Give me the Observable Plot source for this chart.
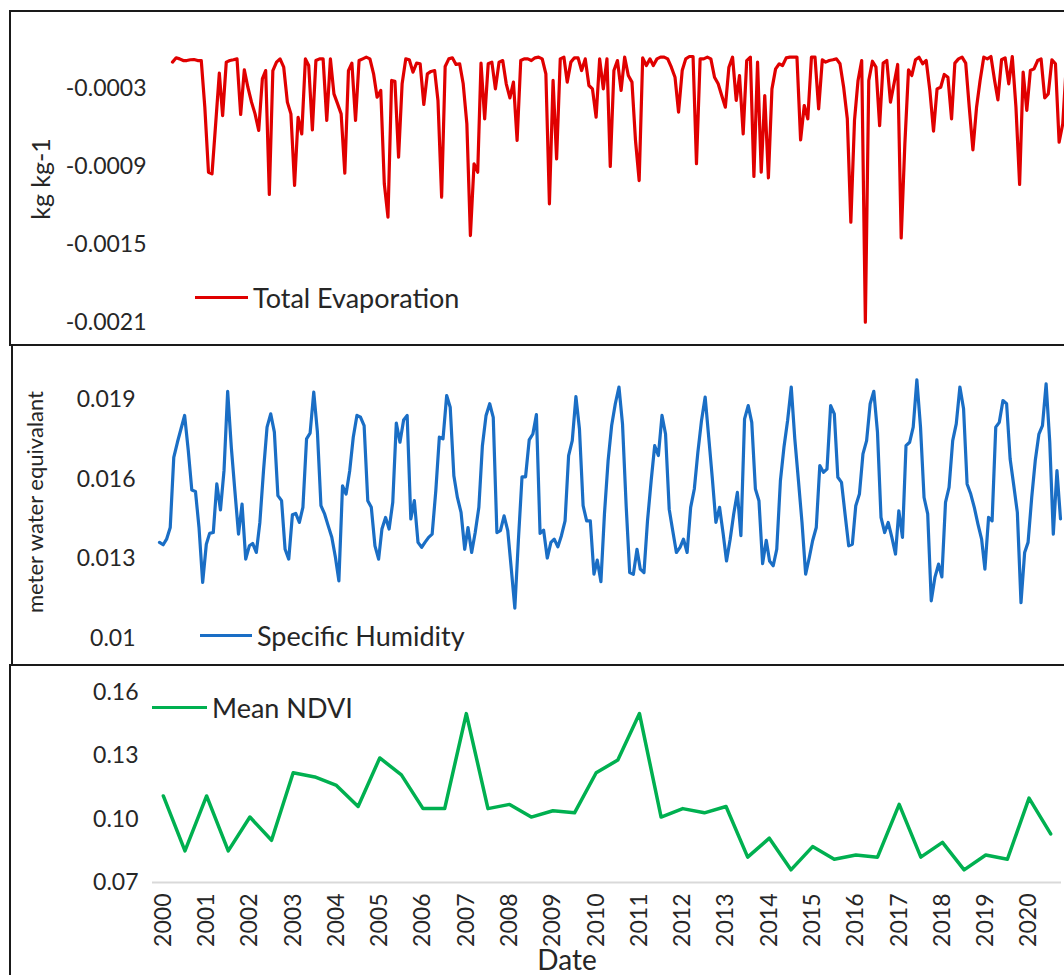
<!DOCTYPE html>
<html><head><meta charset="utf-8">
<script src="https://cdn.jsdelivr.net/npm/d3@7"></script>
<script src="https://cdn.jsdelivr.net/npm/@observablehq/plot@0.6"></script>
<style>
html,body{margin:0;padding:0;background:#fff;}
body{width:1064px;height:975px;overflow:hidden;position:relative;font-family:Lato,sans-serif;color:#262626;}
.panel{position:absolute;border:2px solid #1a1a1a;box-sizing:border-box;}
svg.plot{position:absolute;left:0;max-width:none !important;}
.lbl{position:absolute;white-space:nowrap;line-height:1;transform:translate(-50%,-50%) rotate(-90deg);}
.leg{position:absolute;height:30px;display:flex;align-items:center;font-size:27px;white-space:nowrap;}
.leg .sw{display:inline-block;height:3px;margin-right:5px;}
</style></head><body>
<script>
// ---------- data ----------
const startYear = 2000;
// Total Evaporation, monthly Jan 2000 - Dec 2020 (kg kg-1)
const evaporation = [
-0.000097,-0.000064,-0.000072,-0.000085,-0.000085,-0.000079,-0.000077,-0.000085,-0.000085,-0.000444,-0.000944,-0.000956,
-0.000572,-0.000182,-0.000508,-0.000097,-0.000085,-0.000079,-0.000072,-0.000500,-0.000156,-0.000290,-0.000405,-0.000495,
-0.000623,-0.000226,-0.000162,-0.001115,-0.000162,-0.000097,-0.000072,-0.000136,-0.000405,-0.000495,-0.001046,-0.000521,
-0.000649,-0.000072,-0.000123,-0.000618,-0.000085,-0.000072,-0.000072,-0.000546,-0.000072,-0.000341,-0.000418,-0.000495,
-0.000951,-0.000162,-0.000105,-0.000546,-0.000085,-0.000072,-0.000059,-0.000072,-0.000187,-0.000367,-0.000315,-0.001033,
-0.001290,-0.000238,-0.000244,-0.000828,-0.000264,-0.000072,-0.000079,-0.000174,-0.000105,-0.000110,-0.000423,-0.000187,
-0.000169,-0.000162,-0.000392,-0.001136,-0.000131,-0.000072,-0.000064,-0.000115,-0.000110,-0.000264,-0.000572,-0.001431,
-0.000879,-0.000944,-0.000105,-0.000533,-0.000110,-0.000097,-0.000303,-0.000097,-0.000085,-0.000264,-0.000372,-0.000251,
-0.000700,-0.000085,-0.000072,-0.000072,-0.000085,-0.000064,-0.000059,-0.000072,-0.000187,-0.001187,-0.000238,-0.000841,
-0.000072,-0.000059,-0.000251,-0.000097,-0.000064,-0.000064,-0.000162,-0.000072,-0.000277,-0.000303,-0.000521,-0.000072,
-0.000303,-0.000072,-0.000900,-0.000162,-0.000085,-0.000315,-0.000059,-0.000200,-0.000251,-0.000700,-0.001008,-0.000064,
-0.000123,-0.000072,-0.000123,-0.000072,-0.000059,-0.000059,-0.000072,-0.000136,-0.000213,-0.000482,-0.000162,-0.000072,
-0.000054,-0.000054,-0.000879,-0.000072,-0.000072,-0.000059,-0.000072,-0.000213,-0.000264,-0.000354,-0.000444,-0.000136,
-0.000059,-0.000392,-0.000200,-0.000649,-0.000085,-0.000059,-0.000977,-0.000097,-0.000944,-0.000354,-0.000987,-0.000303,
-0.000149,-0.000110,-0.000123,-0.000064,-0.000059,-0.000059,-0.000059,-0.000695,-0.000431,-0.000533,-0.000059,-0.000059,
-0.000456,-0.000079,-0.000097,-0.000085,-0.000079,-0.000072,-0.000110,-0.000290,-0.000533,-0.001328,-0.000546,-0.000238,
-0.000085,-0.002097,-0.000238,-0.000090,-0.000136,-0.000585,-0.000105,-0.000085,-0.000405,-0.000264,-0.000115,-0.001449,
-0.000726,-0.000156,-0.000200,-0.000079,-0.000059,-0.000110,-0.000085,-0.000315,-0.000628,-0.000303,-0.000290,-0.000192,
-0.000213,-0.000533,-0.000105,-0.000072,-0.000059,-0.000105,-0.000444,-0.000772,-0.000444,-0.000238,-0.000059,-0.000072,
-0.000054,-0.000238,-0.000387,-0.000079,-0.000064,-0.000264,-0.000054,-0.000444,-0.001038,-0.000174,-0.000469,-0.000162,
-0.000149,-0.000085,-0.000072,-0.000372,-0.000341,-0.000079,-0.000110,-0.000713,-0.000572,-0.000120,-0.000080,-0.000090
];
// Specific Humidity, monthly Jan 2000 - Dec 2020 (meter water equivalant)
const humidity = [
0.01362,0.01353,0.01374,0.01418,0.01682,0.01739,0.01789,0.01840,0.01708,0.01559,0.01554,0.01418,
0.01211,0.01355,0.01396,0.01399,0.01582,0.01484,0.01632,0.01931,0.01720,0.01557,0.01393,0.01506,
0.01299,0.01349,0.01358,0.01324,0.01437,0.01632,0.01796,0.01846,0.01777,0.01538,0.01519,0.01336,
0.01299,0.01466,0.01471,0.01437,0.01494,0.01752,0.01773,0.01928,0.01777,0.01500,0.01469,0.01425,
0.01381,0.01305,0.01217,0.01575,0.01544,0.01632,0.01758,0.01840,0.01833,0.01802,0.01519,0.01494,
0.01349,0.01299,0.01412,0.01456,0.01412,0.01513,0.01811,0.01739,0.01823,0.01840,0.01450,0.01519,
0.01362,0.01343,0.01362,0.01381,0.01393,0.01557,0.01758,0.01752,0.01915,0.01871,0.01613,0.01531,
0.01475,0.01336,0.01418,0.01324,0.01399,0.01494,0.01726,0.01840,0.01884,0.01833,0.01399,0.01406,
0.01462,0.01406,0.01267,0.01114,0.01368,0.01609,0.01609,0.01748,0.01770,0.01843,0.01396,0.01408,
0.01303,0.01362,0.01374,0.01345,0.01387,0.01443,0.01689,0.01745,0.01911,0.01789,0.01500,0.01443,
0.01443,0.01242,0.01295,0.01214,0.01469,0.01670,0.01802,0.01884,0.01947,0.01808,0.01500,0.01248,
0.01242,0.01336,0.01261,0.01248,0.01443,0.01594,0.01726,0.01689,0.01840,0.01770,0.01487,0.01406,
0.01324,0.01343,0.01374,0.01324,0.01494,0.01563,0.01701,0.01821,0.01909,0.01758,0.01601,0.01437,
0.01494,0.01393,0.01292,0.01374,0.01469,0.01550,0.01387,0.01827,0.01877,0.01814,0.01563,0.01519,
0.01282,0.01370,0.01292,0.01274,0.01336,0.01594,0.01720,0.01821,0.01947,0.01752,0.01594,0.01437,
0.01242,0.01305,0.01368,0.01418,0.01651,0.01626,0.01638,0.01877,0.01846,0.01607,0.01588,0.01469,
0.01349,0.01355,0.01500,0.01544,0.01695,0.01745,0.01884,0.01931,0.01777,0.01456,0.01399,0.01437,
0.01381,0.01318,0.01481,0.01381,0.01726,0.01739,0.01796,0.01974,0.01796,0.01531,0.01469,0.01142,
0.01230,0.01280,0.01232,0.01513,0.01569,0.01745,0.01808,0.01947,0.01865,0.01582,0.01544,0.01494,
0.01431,0.01374,0.01261,0.01456,0.01443,0.01796,0.01814,0.01896,0.01884,0.01676,0.01575,0.01475,
0.01135,0.01324,0.01362,0.01531,0.01670,0.01770,0.01802,0.01959,0.01739,0.01393,0.01632,0.01450
];
// Mean NDVI, half-yearly
const ndviPeriods = [2000,2000.5,2001,2001.5,2002,2002.5,2003,2003.5,2004,2004.5,2005,2005.5,2006,2006.5,2007,2007.5,
  2008,2008.5,2009,2009.5,2010,2010.5,2011,2011.5,2012,2012.5,2013,2013.5,2014,2014.5,2015,2015.5,2016,2016.5,
  2017,2017.5,2018,2018.5,2019,2019.5,2020,2020.5];
const ndvi = [0.111,0.085,0.111,0.085,0.101,0.090,0.122,0.120,0.116,0.106,0.129,0.121,0.105,0.105,0.150,0.105,
  0.107,0.101,0.104,0.103,0.122,0.128,0.150,0.101,0.105,0.103,0.106,0.082,0.091,0.076,0.087,0.081,0.083,0.082,
  0.107,0.082,0.089,0.076,0.083,0.081,0.110,0.093];
// tick labels
const evapTicks = [-0.0003, -0.0009, -0.0015, -0.0021];
const humTicks = [0.01, 0.013, 0.016, 0.019];
const ndviTicks = [0.07, 0.10, 0.13, 0.16];
const yearTicks = [2000,2001,2002,2003,2004,2005,2006,2007,2008,2009,2010,2011,2012,2013,2014,2015,2016,2017,2018,2019,2020];

// ---------- build ----------
const monthDate = i => new Date(Date.UTC(startYear, i, 1));
const evapRows = evaporation.map((v, i) => ({date: monthDate(i), value: v}));
const humRows = humidity.map((v, i) => ({date: monthDate(i), value: v}));
const ndviRows = ndvi.map((v, i) => ({t: ndviPeriods[i], value: v}));

const baseStyle = {fontFamily: "Lato, sans-serif", fontSize: "23px", color: "#262626", background: "transparent", overflow: "visible", maxWidth: "none"};

function addPanel(left, top, height) {
  const d = document.createElement("div");
  d.className = "panel";
  Object.assign(d.style, {left: left + "px", top: top + "px", width: "1120px", height: height + "px"});
  document.body.appendChild(d);
}
function place(svg, top) {
  svg.classList.add("plot");
  svg.style.top = top + "px";
  svg.style.position = "absolute";
  svg.style.maxWidth = "none";
  svg.style.height = svg.getAttribute("height") + "px";
  document.body.appendChild(svg);
}
function label(text, x, y, size, rotate) {
  const d = document.createElement("div");
  d.className = "lbl";
  d.textContent = text;
  Object.assign(d.style, {left: x + "px", top: y + "px", fontSize: size + "px"});
  if (!rotate) d.style.transform = "translate(-50%,-50%)";
  document.body.appendChild(d);
}
function legend(text, color, x, y, len) {
  const d = document.createElement("div");
  d.className = "leg";
  Object.assign(d.style, {left: x + "px", top: (y - 15) + "px"});
  const sw = document.createElement("span");
  sw.className = "sw";
  Object.assign(sw.style, {width: len + "px", background: color});
  d.appendChild(sw);
  d.appendChild(document.createTextNode(text));
  document.body.appendChild(d);
}

addPanel(9, 10, 336);
addPanel(11, 344, 322);
addPanel(9, 664, 400);

// Panel 1: Total Evaporation
place(Plot.plot({
  width: 1100, height: 345,
  marginLeft: 150, marginRight: 0, marginTop: 0, marginBottom: 0,
  style: baseStyle,
  x: {type: "utc", domain: [evapRows[0].date, evapRows[evapRows.length - 1].date], range: [172, 1073], axis: null},
  y: {domain: [-0.0021, 0], range: [322, 49], axis: null},
  marks: [
    Plot.axisY({ticks: evapTicks, tickSize: 0, tickPadding: 4, tickFormat: d => String(d), label: null}),
    Plot.line(evapRows, {x: "date", y: "value", stroke: "#e00000", strokeWidth: 3.2, strokeLinejoin: "round"})
  ]
}), 0);

// Panel 2: Specific Humidity
place(Plot.plot({
  width: 1100, height: 320,
  marginLeft: 139, marginRight: 0, marginTop: 0, marginBottom: 0,
  style: baseStyle,
  x: {type: "utc", domain: [humRows[0].date, humRows[humRows.length - 1].date], range: [159, 1060], axis: null},
  y: {domain: [0.01, 0.019], range: [293, 54], axis: null},
  marks: [
    Plot.axisY({ticks: humTicks, tickSize: 0, tickPadding: 4, tickFormat: d => String(d), label: null}),
    Plot.line(humRows, {x: "date", y: "value", stroke: "#1a6ec5", strokeWidth: 3.2, strokeLinejoin: "round"})
  ]
}), 345);

// Panel 3: Mean NDVI
place(Plot.plot({
  width: 1100, height: 310,
  marginLeft: 152, marginRight: 39, marginTop: 27, marginBottom: 93,
  style: baseStyle,
  x: {domain: [1999.75, 2020.75], axis: null},
  y: {domain: [0.07, 0.16], range: [217, 27], axis: null},
  marks: [
    Plot.ruleY([0.07], {stroke: "#d9d9d9", strokeWidth: 2}),
    Plot.axisY({ticks: ndviTicks, tickSize: 0, tickPadding: 14, tickFormat: d3.format(".2f"), label: null}),
    Plot.axisX({ticks: yearTicks, tickSize: 0, tickPadding: 11, tickRotate: -90, tickFormat: d => String(d), label: null}),
    Plot.line(ndviRows, {x: "t", y: "value", stroke: "#00b050", strokeWidth: 3.5, strokeLinejoin: "round"})
  ]
}), 665);

// axis titles
label("kg kg-1", 40, 179, 25, true);
label("meter water equivalant", 35, 502, 22, true);
label("Date", 567, 959, 28, false);

// legends
legend("Total Evaporation", "#e00000", 195, 297, 53);
legend("Specific Humidity", "#1a6ec5", 200, 635, 52);
legend("Mean NDVI", "#00b050", 152, 707, 55);
</script>
</body></html>
